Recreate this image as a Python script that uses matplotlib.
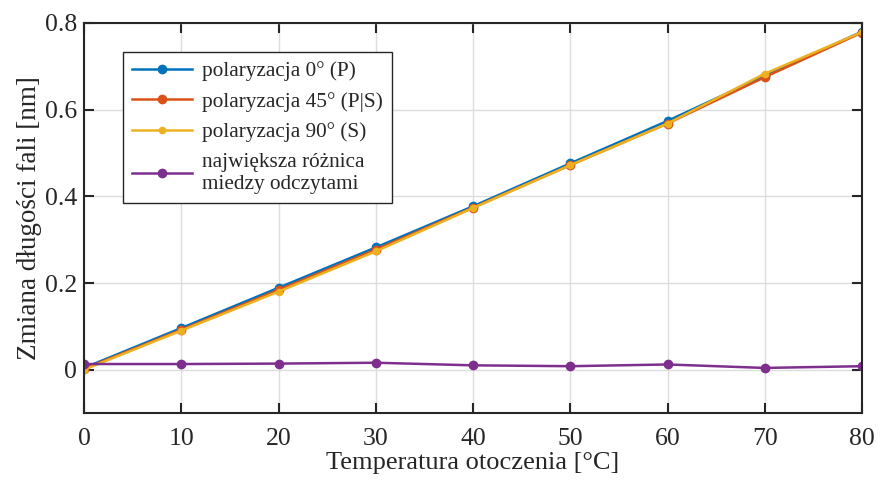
import numpy as np
import matplotlib.pyplot as plt

plt.rcParams['font.family'] = ['Liberation Serif', 'DejaVu Serif']

temp = [0, 10, 20, 30, 40, 50, 60, 70, 80]
pol0 = [0.004, 0.096, 0.189, 0.282, 0.377, 0.476, 0.574, 0.678, 0.780]
pol45 = [0.002, 0.092, 0.184, 0.277, 0.374, 0.472, 0.568, 0.675, 0.778]
pol90 = [0.000, 0.090, 0.180, 0.273, 0.373, 0.472, 0.568, 0.683, 0.779]
diff = [0.013, 0.013, 0.014, 0.016, 0.010, 0.008, 0.012, 0.004, 0.008]

labels = ['polaryzacja 0° (P)', 'polaryzacja 45° (P|S)', 'polaryzacja 90° (S)',
          'największa różnica\nmiedzy odczytami']
colors = ['#0072BD', '#D95319', '#EDB120', '#7E2F8E']

fig = plt.figure(figsize=(8.8, 4.8), dpi=100)
ax = fig.add_axes([84/880, 1-413/480, 778/880, 390/480])

series = [pol0, pol45, pol90, diff]
msizes = [6, 6, 4.5, 6]
for s, c, l, m in zip(series, colors, labels, msizes):
    ax.plot(temp, s, 'o-', color=c, label=l, linewidth=1.8, markersize=m)

ax.set_xlim(0, 80)
ax.set_ylim(-0.1, 0.8)
ax.set_xticks(temp)
ax.set_yticks([0, 0.2, 0.4, 0.6, 0.8])
ax.set_yticklabels(['0', '0.2', '0.4', '0.6', '0.8'])
ax.grid(True, color='#dddddd', linewidth=1)
ax.set_axisbelow(True)
ax.tick_params(direction='in', length=7, width=1.5, top=True, right=True,
               labelsize=18.5, colors='#262626')
ax.tick_params(axis='x', pad=11)
ax.tick_params(axis='y', pad=5)
for sp in ax.spines.values():
    sp.set_linewidth(1.5)
    sp.set_color('#262626')

ax.set_xlabel('Temperatura otoczenia [°C]', fontsize=19, color='#262626', labelpad=1)
ax.set_ylabel('Zmiana długości fali [nm]', fontsize=19.5, color='#262626', labelpad=2)

leg = ax.legend(loc='upper left', bbox_to_anchor=(0.050, 0.926), fontsize=15.3,
                frameon=True, fancybox=False, edgecolor='#262626', framealpha=1,
                handlelength=2.8, borderpad=0.45, borderaxespad=0,
                labelspacing=0.5, handletextpad=0.45)
leg.get_frame().set_linewidth(1.0)
for t in leg.get_texts():
    t.set_color('#262626')

fig.savefig('out.png', dpi=100)
